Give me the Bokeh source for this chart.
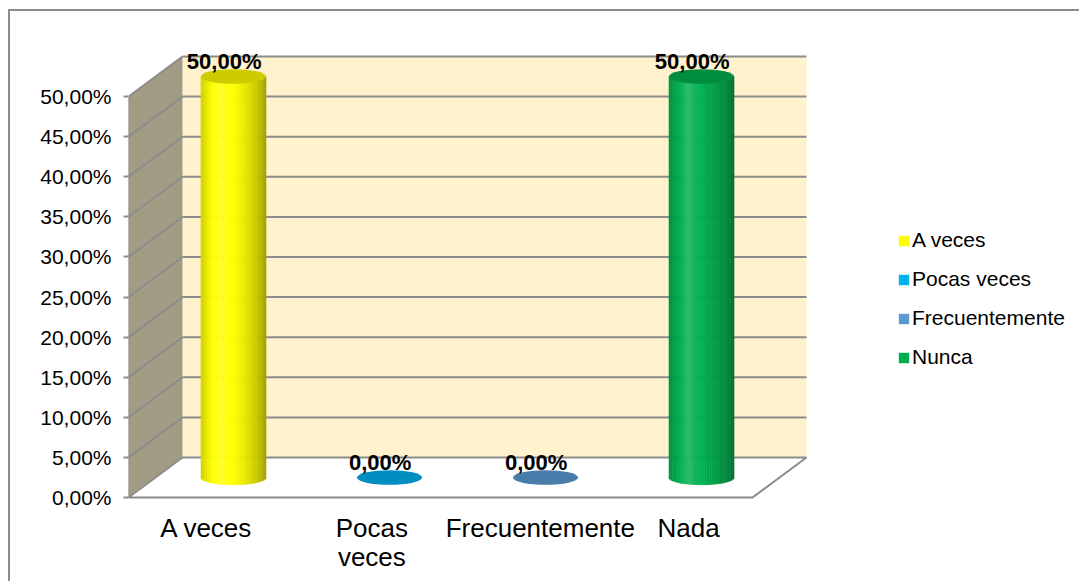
import numpy as np
from bokeh.plotting import figure
from bokeh.models import (Range1d, FixedTicker, ColumnDataSource, Legend, LegendItem)
from bokeh.core.properties import value
from bokeh.embed import file_html
from bokeh.resources import INLINE

# ---------------- data ----------------
categories = ["A veces", "Pocas veces", "Frecuentemente", "Nada"]
axis_labels = ["A veces", "Pocas\nveces", "Frecuentemente", "Nada"]
series_names = ["A veces", "Pocas veces", "Frecuentemente", "Nunca"]
values = [50.0, 0.0, 0.0, 50.0]
data_labels = ["50,00%", "0,00%", "0,00%", "50,00%"]
bar_colors = ["#FFFF00", "#00B0F0", "#5B9BD5", "#00B050"]
y_ticks = [0, 5, 10, 15, 20, 25, 30, 35, 40, 45, 50]
y_tick_labels = ["0,00%", "5,00%", "10,00%", "15,00%", "20,00%", "25,00%",
                 "30,00%", "35,00%", "40,00%", "45,00%", "50,00%"]

# ---------------- layout constants ----------------
FONT = "Liberation Sans"
OX, OY = 10, 11              # page position of the canvas
W, H = 1081 - OX, 583 - OY
FRAME_L = 128                # page x of the frame's left edge (value axis)
ML = FRAME_L - OX
Y0_PAGE = 497                # page y of 0 %
PX_Y = 401.0 / 50.0          # pixels per percent
PX_X = 156.0                 # pixels per category
DX = 54.0 / PX_X             # depth offset (x units)
DY = 40.0 / PX_Y             # depth offset (percent units)
YMAX = 50.0
GRID = "#8C8C8C"
BAR_W = 65.0 / PX_X
ELL_H = 14.5 / PX_Y
N = len(categories)

def shade(hexc, f):
    r, g, b = (int(hexc[i:i + 2], 16) for i in (1, 3, 5))
    if f <= 1:
        r, g, b = r * f, g * f, b * f
    else:
        t = f - 1
        r, g, b = r + (255 - r) * t, g + (255 - g) * t, b + (255 - b) * t
    return "#%02x%02x%02x" % (int(round(min(255, r))), int(round(min(255, g))), int(round(min(255, b))))

p = figure(width=W, height=H, output_backend="svg", toolbar_location=None,
           x_range=Range1d(0, (OX + W - FRAME_L) / PX_X),
           y_range=Range1d(-(OY + H - Y0_PAGE) / PX_Y, (Y0_PAGE - OY) / PX_Y),
           min_border_left=ML, min_border_right=0, min_border_top=0,
           min_border_bottom=0)
p.styles = {"margin-left": "%dpx" % OX, "margin-top": "%dpx" % OY,
            "box-shadow": "-2px -2px 0px 0px #8C8C8C"}
p.outline_line_color = None
p.grid.visible = False
p.xaxis.visible = False
p.background_fill_color = "white"
p.border_fill_color = "white"

# ---------------- 3D walls ----------------
p.patch([DX, N + DX, N + DX, DX], [DY, DY, YMAX + DY, YMAX + DY],
        fill_color="#FFF2CC", line_color=None)
p.patch([0, DX, DX, 0], [0, DY, YMAX + DY, YMAX],
        fill_color="#A39C84", line_color=None)
p.patch([0, N, N + DX, DX], [0, 0, DY, DY], fill_color="white",
        line_color=GRID, line_width=2)

gt = [t for t in y_ticks if t > 0]
p.multi_line([[DX, N + DX] for t in gt], [[t + DY, t + DY] for t in gt],
             line_color=GRID, line_width=2)
p.multi_line([[0, DX] for t in gt], [[t, t + DY] for t in gt],
             line_color=GRID, line_width=2)
p.line([0, 0], [0, YMAX], line_color=GRID, line_width=2)

# ---------------- cylinders ----------------
prof_u = [-1.0, -0.7, -0.4, -0.1, 0.3, 0.7, 0.9, 1.0]
prof_f = [0.82, 0.97, 1.15, 1.03, 0.93, 0.80, 0.70, 0.62]
NS = 40
for i, (v, c) in enumerate(zip(values, bar_colors)):
    cx = i + 0.5 + DX / 2
    base = DY / 2
    top = v + DY / 2
    if v > 0:
        edges = np.linspace(-1, 1, NS + 1)
        uc = (edges[:-1] + edges[1:]) / 2
        left = cx + edges[:-1] * BAR_W / 2
        right = cx + edges[1:] * BAR_W / 2
        bottoms = base - (ELL_H / 2) * np.sqrt(np.clip(1 - uc ** 2, 0, 1))
        cols = [shade(c, f) for f in np.interp(uc, prof_u, prof_f)]
        src = ColumnDataSource(dict(left=left, right=right, bottom=bottoms,
                                    top=[top] * NS, color=cols))
        p.quad(left="left", right="right", bottom="bottom", top="top",
               fill_color="color", line_color="color", line_width=0.6, source=src)
    p.ellipse(x=[cx], y=[top], width=[BAR_W], height=[ELL_H],
              fill_color=shade(c, 0.80), line_color=None)

p.text(x=[i + 0.5 + DX / 2 - 0.06 for i in range(N)],
       y=[v + DY / 2 + 0.35 for v in values], text=data_labels,
       text_font=value(FONT), text_font_style="bold", text_font_size="22px",
       text_align="center", text_baseline="bottom", text_color="black")

# ---------------- category labels ----------------
label_shift = [0.0, 0.06, 0.14, 0.09]
xt = [i + 0.5 + s for i, s in zip(range(N), label_shift)]
p.text(x=xt, y=[-1.9] * N, text=axis_labels, text_font=value(FONT),
       text_font_size="26px", text_align="center", text_baseline="top",
       text_color="black", text_line_height=0.96)

# ---------------- value axis ----------------
yax = p.yaxis[0]
yax.ticker = FixedTicker(ticks=y_ticks)
yax.major_label_overrides = {t: l for t, l in zip(y_ticks, y_tick_labels)}
yax.axis_line_color = None
yax.major_tick_line_color = GRID
yax.major_tick_line_width = 2
yax.major_tick_out = 5
yax.major_tick_in = 0
yax.minor_tick_line_color = None
yax.major_label_standoff = 12
yax.major_label_text_font = FONT
yax.major_label_text_font_size = "21px"
yax.major_label_text_color = "black"

# ---------------- legend ----------------
items = []
for name, c in zip(series_names, bar_colors):
    # off-range swatch renderer used only for the legend glyph
    r = p.quad(left=[-3], right=[-2], bottom=[-30], top=[-29], fill_color=c, line_color=None)
    items.append(LegendItem(label=name, renderers=[r]))
leg = Legend(items=items, location=(769, 214), orientation="vertical",
             glyph_width=13, glyph_height=13, label_height=24, spacing=15,
             label_standoff=2, padding=0, margin=0,
             border_line_color=None, background_fill_alpha=0,
             label_text_font=FONT, label_text_font_size="21px",
             label_text_color="black")
p.add_layout(leg)

open("out.html", "w").write(file_html(p, INLINE))
